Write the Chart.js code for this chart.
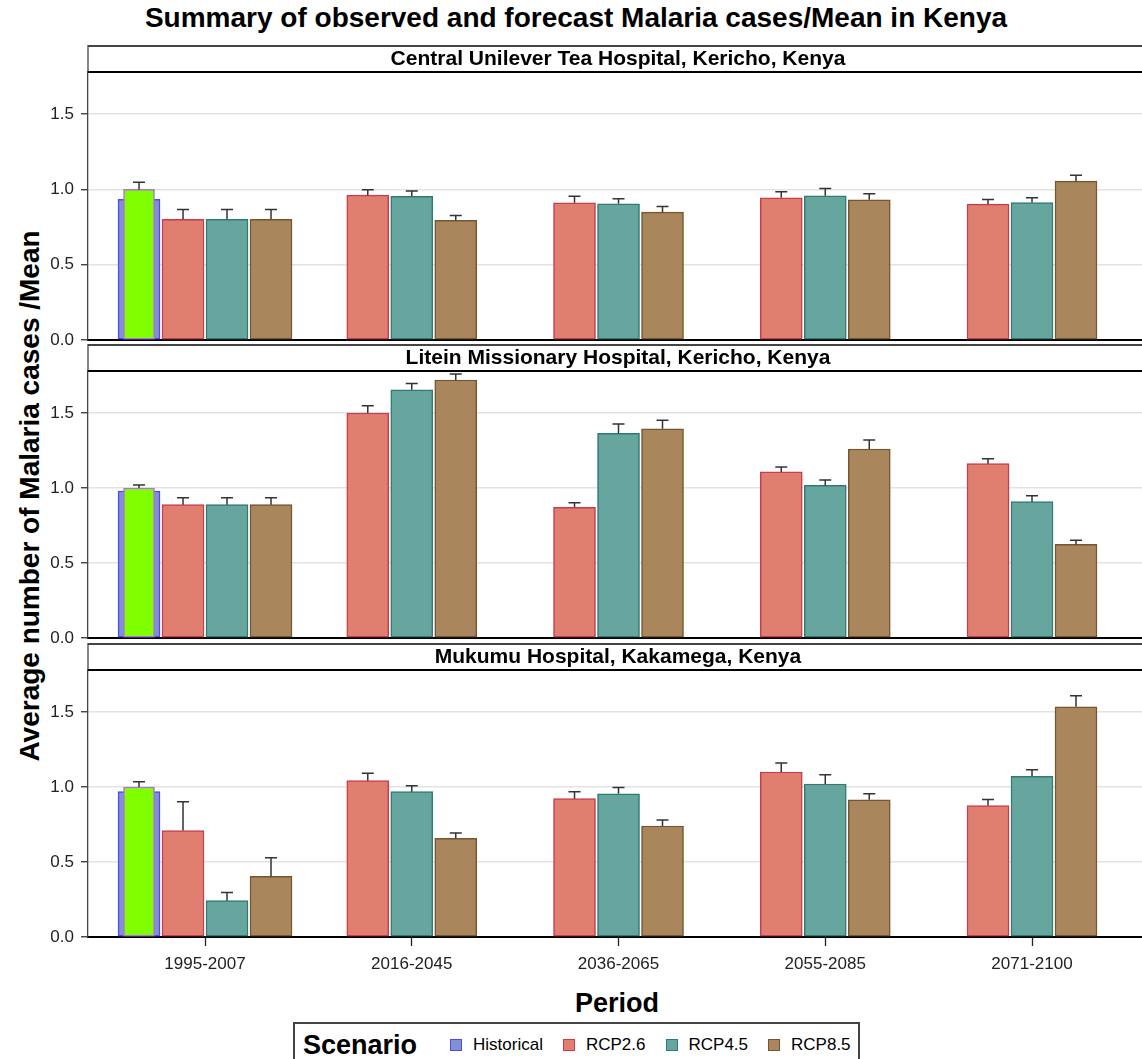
<!DOCTYPE html>
<html>
<head>
<meta charset="utf-8">
<script src="https://cdn.jsdelivr.net/npm/chart.js@4.4.1/dist/chart.umd.min.js"></script>
<style>
  html, body { margin: 0; padding: 0; background: #fff; }
  #page { position: relative; width: 1142px; height: 1059px; overflow: hidden;
          font-family: "Liberation Sans", Arial, sans-serif; color: #000; }
  canvas.panel { position: absolute; left: 0; }
  #title { position: absolute; top: 2px; left: 576px; transform: translateX(-50%);
           font-weight: bold; font-size: 28px; white-space: nowrap; line-height: 32px; }
  #ytitle { position: absolute; left: 30px; top: 496px; transform: translate(-50%, -50%) rotate(-90deg);
            font-weight: bold; font-size: 28px; white-space: nowrap; }
  #xtitle { position: absolute; left: 617px; top: 988px; transform: translateX(-50%);
            font-weight: bold; font-size: 27px; white-space: nowrap; }
  #legend { position: absolute; left: 293px; top: 1022px; width: 567px; height: 60px;
            border: 2px solid #444; box-sizing: border-box; display: flex; align-items: flex-start;
            padding: 6px 0 0 8px; }
  #legend .head { font-weight: bold; font-size: 27px; line-height: 30px; margin-right: 33px; }
  #legend .item { display: flex; align-items: center; height: 30px; margin-right: 20px; font-size: 17px; }
  #legend .mark { width: 10px; height: 10px; border: 1.5px solid; margin-right: 11px; }
</style>
</head>
<body>
<div id="page">
  <div id="title">Summary of observed and forecast Malaria cases/Mean in Kenya</div>
  <div id="ytitle">Average number of Malaria cases /Mean</div>
  <canvas id="p0" class="panel"></canvas>
  <canvas id="p1" class="panel"></canvas>
  <canvas id="p2" class="panel"></canvas>
  <div id="xtitle">Period</div>
  <div id="legend"></div>
</div>
<script>
// ---- data ----
const periods = ['1995-2007', '2016-2045', '2036-2065', '2055-2085', '2071-2100'];
const hospitals = [
  'Central Unilever Tea Hospital, Kericho, Kenya',
  'Litein Missionary Hospital, Kericho, Kenya',
  'Mukumu Hospital, Kakamega, Kenya'
];
const scenarios = ['Historical', 'RCP2.6', 'RCP4.5', 'RCP8.5'];
const yTickValues = [0, 0.5, 1.0, 1.5];

// observed cases / mean for 1995-2007, one value per hospital, with upper error
const observedMean  = [1.0, 1.0, 1.0];
const observedUpper = [1.047, 1.02, 1.035];
// historical model run, one value per hospital
const historicalMean = [0.935, 0.98, 0.969];

// scenario means and upper error limits, per hospital, per period
const rcp26Mean = [
  [0.802, 0.962, 0.911, 0.945, 0.902],
  [0.889, 1.500, 0.871, 1.107, 1.162],
  [0.710, 1.042, 0.922, 1.100, 0.876]
];
const rcp26Upper = [
  [0.867, 0.998, 0.955, 0.985, 0.933],
  [0.935, 1.548, 0.902, 1.140, 1.195],
  [0.902, 1.091, 0.969, 1.160, 0.917]
];
const rcp45Mean = [
  [0.802, 0.955, 0.905, 0.958, 0.913],
  [0.889, 1.655, 1.364, 1.017, 0.909],
  [0.242, 0.969, 0.955, 1.020, 1.071]
];
const rcp45Upper = [
  [0.867, 0.989, 0.938, 1.007, 0.945],
  [0.935, 1.697, 1.427, 1.054, 0.949],
  [0.297, 1.009, 0.996, 1.082, 1.115]
];
const rcp85Mean = [
  [0.802, 0.795, 0.849, 0.931, 1.055],
  [0.889, 1.720, 1.395, 1.260, 0.624],
  [0.404, 0.657, 0.740, 0.915, 1.535]
];
const rcp85Upper = [
  [0.867, 0.827, 0.887, 0.971, 1.095],
  [0.935, 1.760, 1.452, 1.320, 0.651],
  [0.529, 0.693, 0.780, 0.955, 1.609]
];

// ---- styling ----
const FONT = '"Liberation Sans", Arial, sans-serif';
const style = {
  observed:   { fill: '#7FFF00', line: '#B070E0' },
  Historical: { fill: '#8090D2', line: '#4B4BE6' },
  'RCP2.6':   { fill: '#E07F6F', line: '#C83C4E' },
  'RCP4.5':   { fill: '#67A59F', line: '#2C7C72' },
  'RCP8.5':   { fill: '#A9865C', line: '#76552F' }
};
const SLOT = 0.2128;          // width of one bar slot in period units
const X_MIN = -0.566, X_MAX = 4.532;
const Y_MAX = 1.78;

// panel geometry (canvas top, canvas height, height of x axis band)
const panels = [
  { top: 45,  height: 309, xBand: 14, showX: false },
  { top: 344, height: 308, xBand: 14, showX: false },
  { top: 643, height: 339, xBand: 45, showX: true }
];

// bar position inside a period cluster: four slots in the first period, three afterwards
function slotX(period, s) {
  return period === 0 ? period + (s - 1.5) * SLOT : period + (s - 2) * SLOT;
}

const errorBars = {
  id: 'errorBars',
  afterDatasetsDraw(chart) {
    const ctx = chart.ctx, ys = chart.scales.y;
    chart.data.datasets.forEach((ds, i) => {
      if (!ds.upper) return;
      chart.getDatasetMeta(i).data.forEach((bar, j) => {
        const top = ys.getPixelForValue(ds.upper[j]);
        ctx.save();
        ctx.strokeStyle = '#333';
        ctx.lineWidth = 1.5;
        ctx.beginPath();
        ctx.moveTo(bar.x, bar.y);
        ctx.lineTo(bar.x, top);
        ctx.moveTo(bar.x - 6, top);
        ctx.lineTo(bar.x + 6, top);
        ctx.stroke();
        ctx.restore();
      });
    });
  }
};

const stripHeader = {
  id: 'stripHeader',
  afterDraw(chart, args, opts) {
    const { ctx, chartArea: a } = chart;
    ctx.save();
    ctx.strokeStyle = '#444';
    ctx.lineWidth = 2;
    ctx.beginPath();
    ctx.moveTo(a.left, 1);
    ctx.lineTo(chart.width, 1);
    ctx.stroke();
    ctx.lineWidth = 1.3;
    ctx.beginPath();
    ctx.moveTo(a.left, 0);
    ctx.lineTo(a.left, a.top);
    ctx.stroke();
    ctx.strokeStyle = '#000';
    ctx.lineWidth = 2;
    ctx.beginPath();
    ctx.moveTo(a.left, a.top);
    ctx.lineTo(chart.width, a.top);
    ctx.stroke();
    ctx.fillStyle = '#000';
    ctx.font = 'bold 21px ' + FONT;
    ctx.textAlign = 'center';
    ctx.textBaseline = 'middle';
    ctx.fillText(opts.text, (a.left + a.right) / 2 + 3, a.top / 2 + 1);
    ctx.restore();
  }
};

function barSet(label, key, values, upper, periodList, s, thickness) {
  return {
    label: label,
    data: periodList.map((p, j) => ({ x: slotX(p, s), y: values[j] })),
    upper: upper,
    backgroundColor: style[key].fill,
    borderColor: style[key].line,
    borderWidth: 1.5,
    borderSkipped: false,
    barThickness: thickness,
    grouped: false
  };
}

panels.forEach((pn, h) => {
  const canvas = document.getElementById('p' + h);
  canvas.width = 1142;
  canvas.height = pn.height;
  canvas.style.top = pn.top + 'px';
  const allPeriods = periods.map((_, p) => p);

  const datasets = [
    barSet('Observed', 'observed', [observedMean[h]], [observedUpper[h]], [0], 0, 31),
    barSet('Historical', 'Historical', [historicalMean[h]], null, [0], 0, 42),
    barSet('RCP2.6', 'RCP2.6', rcp26Mean[h], rcp26Upper[h], allPeriods, 1, 42),
    barSet('RCP4.5', 'RCP4.5', rcp45Mean[h], rcp45Upper[h], allPeriods, 2, 42),
    barSet('RCP8.5', 'RCP8.5', rcp85Mean[h], rcp85Upper[h], allPeriods, 3, 42)
  ];

  new Chart(canvas, {
    type: 'bar',
    data: { datasets },
    plugins: [errorBars, stripHeader],
    options: {
      responsive: false,
      animation: false,
      devicePixelRatio: 1,
      layout: { padding: { left: 0, right: 0, top: 27, bottom: 0 } },
      plugins: {
        legend: { display: false },
        tooltip: { enabled: false },
        stripHeader: { text: hospitals[h] }
      },
      scales: {
        x: {
          type: 'linear',
          min: X_MIN,
          max: X_MAX,
          offset: false,
          afterBuildTicks: s => { s.ticks = periods.map((_, i) => ({ value: i })); },
          afterFit: s => { s.height = pn.xBand; s.paddingLeft = 0; s.paddingRight = 0; },
          grid: { display: true, offset: false, drawOnChartArea: false, drawTicks: pn.showX,
                  tickLength: 9, tickColor: '#222', tickWidth: 1.3 },
          border: { display: true, color: '#000', width: 2 },
          ticks: {
            display: pn.showX,
            padding: 8,
            color: '#222',
            font: { family: FONT, size: 17 },
            maxRotation: 0,
            autoSkip: false,
            callback: v => periods[v]
          }
        },
        y: {
          min: 0,
          max: Y_MAX,
          afterBuildTicks: s => { s.ticks = yTickValues.map(v => ({ value: v })); },
          afterFit: s => { s.width = 88; s.paddingTop = 0; s.paddingBottom = 0; },
          grid: {
            color: c => (c.tick && c.tick.value === 0) ? 'rgba(0,0,0,0)' : '#e3e3e3',
            lineWidth: 1.5,
            tickColor: '#333',
            tickLength: 7,
            tickWidth: 1.3
          },
          border: { display: true, color: '#444', width: 1.3 },
          ticks: {
            padding: 7,
            color: '#222',
            font: { family: FONT, size: 17 },
            callback: v => Number(v).toFixed(1)
          }
        }
      }
    }
  });
});

// legend
const legend = document.getElementById('legend');
const head = document.createElement('div');
head.className = 'head';
head.textContent = 'Scenario';
legend.appendChild(head);
scenarios.forEach(name => {
  const item = document.createElement('div');
  item.className = 'item';
  const mark = document.createElement('span');
  mark.className = 'mark';
  mark.style.background = style[name].fill;
  mark.style.borderColor = style[name].line;
  const txt = document.createElement('span');
  txt.textContent = name;
  item.appendChild(mark);
  item.appendChild(txt);
  legend.appendChild(item);
});
</script>
</body>
</html>
